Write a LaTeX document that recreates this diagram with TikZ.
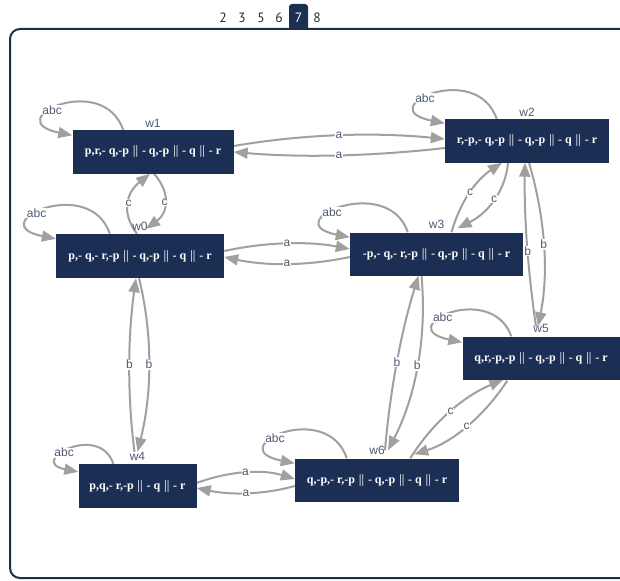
\documentclass[tikz,border=0pt]{standalone}
\usepackage{fontspec}
\usetikzlibrary{arrows.meta,calc}
\newfontfamily\nfont{Liberation Serif}
\newfontfamily\lfont{Liberation Sans}
\newfontfamily\tfont{PT Sans}
\definecolor{navy}{HTML}{1B2F55}
\definecolor{framec}{HTML}{1C2F4C}
\definecolor{egray}{HTML}{A0A0A0}
\definecolor{lblue}{HTML}{4E5A73}
\definecolor{tabtxt}{HTML}{2A2A2A}
\pgfdeclarelayer{bg}
\pgfsetlayers{bg,main}
\tikzset{
  st/.style={fill=navy,text=white,minimum height=43,inner sep=0,
    font=\nfont\bfseries\boldmath\fontsize{12}{13}\selectfont},
  wl/.style={text=lblue,font=\lfont\fontsize{12}{13}\selectfont,inner sep=0},
  edge/.style={draw=egray,line width=2,-{Triangle[length=14,width=11]}},
  elab/.style={text=lblue,font=\lfont\fontsize{12}{13}\selectfont,fill=white,inner sep=0.6},
  tabt/.style={text=tabtxt,font=\tfont\fontsize{13.5}{14}\selectfont,inner sep=0},
}
\begin{document}
\begin{tikzpicture}[x=1pt,y=-1pt]
\clip (0,0) rectangle (620,580);
% nodes
\node[st,minimum width=161,label={[wl,label distance=3]above:w1}] (w1) at (153,152) {p,r,- q,-p \(\|\) - q,-p \(\|\) - q \(\|\) - r};
\node[st,minimum width=164,label={[wl,label distance=3]above:w2}] (w2) at (527,141) {r,-p,- q,-p \(\|\) - q,-p \(\|\) - q \(\|\) - r};
\node[st,minimum width=168,minimum height=44,label={[wl,label distance=3]above:w0}] (w0) at (140,256) {p,- q,- r,-p \(\|\) - q,-p \(\|\) - q \(\|\) - r};
\node[st,minimum width=173,label={[wl,label distance=3]above:w3}] (w3) at (436.5,254) {-p,- q,- r,-p \(\|\) - q,-p \(\|\) - q \(\|\) - r};
\node[st,minimum width=157,label={[wl,label distance=3]above:w5}] (w5) at (541,358) {q,r,-p,-p \(\|\) - q,-p \(\|\) - q \(\|\) - r};
\node[st,minimum width=118,minimum height=44,label={[wl,label distance=3]above:w4}] (w4) at (137.5,486) {p,q,- r,-p \(\|\) - q \(\|\) - r};
\node[st,minimum width=164,label={[wl,label distance=3]above:w6}] (w6) at (377,480) {q,-p,- r,-p \(\|\) - q,-p \(\|\) - q \(\|\) - r};

\begin{pgfonlayer}{bg}
\fill[white] (0,0) rectangle (620,580);
% frame and tabs
\draw[framec,line width=2,rounded corners=10] (10,29) rectangle (680,578);
\fill[navy,rounded corners=3] (289,30) -- (289,4) -- (308,4) -- (308,30);
\node[tabt] (t2) at (223,18) {2};
\node[tabt] (t3) at (242,18) {3};
\node[tabt] (t5) at (261,18) {5};
\node[tabt] (t6) at (279,18) {6};
\node[tabt,text=white] (t7) at (298.5,18) {7};
\node[tabt] (t8) at (317,18) {8};
% self loops
\draw[edge] ($(w1.north west)+(51,0)$) .. controls +(-20,-60) and +(-75,-15) .. ($(w1.north west)+(0,5)$) node[elab,pos=0.6]{abc};
\draw[edge] ($(w0.north west)+(54,0)$) .. controls +(-20,-60) and +(-75,-15) .. ($(w0.north west)+(0,5)$) node[elab,pos=0.6]{abc};
\draw[edge] ($(w2.north west)+(52,0)$) .. controls +(-20,-60) and +(-75,-15) .. ($(w2.north west)+(0,4)$) node[elab,pos=0.6]{abc};
\draw[edge] ($(w3.north west)+(58,0)$) .. controls +(-20,-60) and +(-75,-15) .. ($(w3.north west)+(0,5)$) node[elab,pos=0.6]{abc};
\draw[edge] ($(w5.north west)+(49,0)$) .. controls +(-20,-56) and +(-72,-15) .. ($(w5.north west)+(0,6)$) node[elab,pos=0.6]{abc};
\draw[edge] ($(w6.north west)+(52,0)$) .. controls +(-20,-60) and +(-75,-15) .. ($(w6.north west)+(0,5)$) node[elab,pos=0.6]{abc};
\draw[edge] ($(w4.north west)+(35,0)$) .. controls +(-14,-42) and +(-52,-10) .. ($(w4.north west)+(0,8)$) node[elab,pos=0.6]{abc};

% w1 - w2
\draw[edge] ($(w1.east)+(0,-6)$) .. controls (304,134) and (374,132) .. ($(w2.west)+(0,-2)$) node[elab,pos=.5]{a};
\draw[edge] ($(w2.west)+(0,7)$) .. controls (374,156) and (304,158) .. (w1.east) node[elab,pos=.5]{a};
% w0 - w1
\draw[edge] ($(w0.north)+(-3,0)$) .. controls (121,213) and (126,193) .. ($(w1.south)+(-3,0)$) node[elab,pos=.5]{c};
\draw[edge] ($(w1.south)+(1,0)$) .. controls (171,193) and (168,213) .. ($(w0.north)+(6,-5)$) node[elab,pos=.5]{c};
% w0 - w3
\draw[edge] ($(w0.east)+(0,-5)$) .. controls (266,242) and (308,241) .. ($(w3.west)+(0,-5)$) node[elab,pos=.5]{a};
\draw[edge] ($(w3.west)+(0,3)$) .. controls (308,266) and (266,266) .. ($(w0.east)+(0,1)$) node[elab,pos=.5]{a};
% w3 - w2
\draw[edge] ($(w3.north)+(15,0)$) .. controls (460,202) and (476,180) .. ($(w2.south)+(-25,0)$) node[elab,pos=.5]{c};
\draw[edge] ($(w2.south)+(-19,0)$) .. controls (506,188) and (490,212) .. ($(w3.north)+(21,-4)$) node[elab,pos=.5]{c};
% w2 - w5
\draw[edge] ($(w2.south)+(2,0)$) .. controls (545,217) and (549,272) .. ($(w5.north)+(-3,-10)$) node[elab,pos=.5]{b};
\draw[edge] ($(w5.north)+(-5,-10)$) .. controls (528,272) and (524,217) .. ($(w2.south)+(-2,0)$) node[elab,pos=.46]{b};
% w0 - w4
\draw[edge] ($(w4.north)+(-3,-12)$) .. controls (127,394) and (128,335) .. ($(w0.south)+(-4,0)$) node[elab,pos=.5]{b};
\draw[edge] ($(w0.south)+(-1,0)$) .. controls (153,335) and (152,394) .. ($(w4.north)+(0,-12)$) node[elab,pos=.5]{b};
% w3 - w6
\draw[edge] ($(w3.south)+(-15,0)$) .. controls (427,337) and (416,396) .. ($(w6.north)+(11,-8)$) node[elab,pos=.5]{b};
\draw[edge] ($(w6.north)+(8,-8)$) .. controls (390,391) and (401,332) .. ($(w3.south)+(-18,0)$) node[elab,pos=.5]{b};
% w5 - w6
\draw[edge] ($(w6.north east)+(-49,0)$) .. controls (433,422) and (464,396) .. ($(w5.south west)+(41,0)$) node[elab,pos=.5]{c};
\draw[edge] ($(w5.south west)+(45,1)$) .. controls (484,416) and (453,442) .. ($(w6.north east)+(-45,-4)$) node[elab,pos=.5]{c};
% w4 - w6
\draw[edge] ($(w4.east)+(0,-3)$) .. controls (229,471) and (262,469) .. ($(w6.west)+(0,-1)$) node[elab,pos=.5]{a};
\draw[edge] ($(w6.west)+(0,6)$) .. controls (262,495) and (230,495) .. ($(w4.east)+(0,2)$) node[elab,pos=.5]{a};
\end{pgfonlayer}
\end{tikzpicture}
\end{document}
